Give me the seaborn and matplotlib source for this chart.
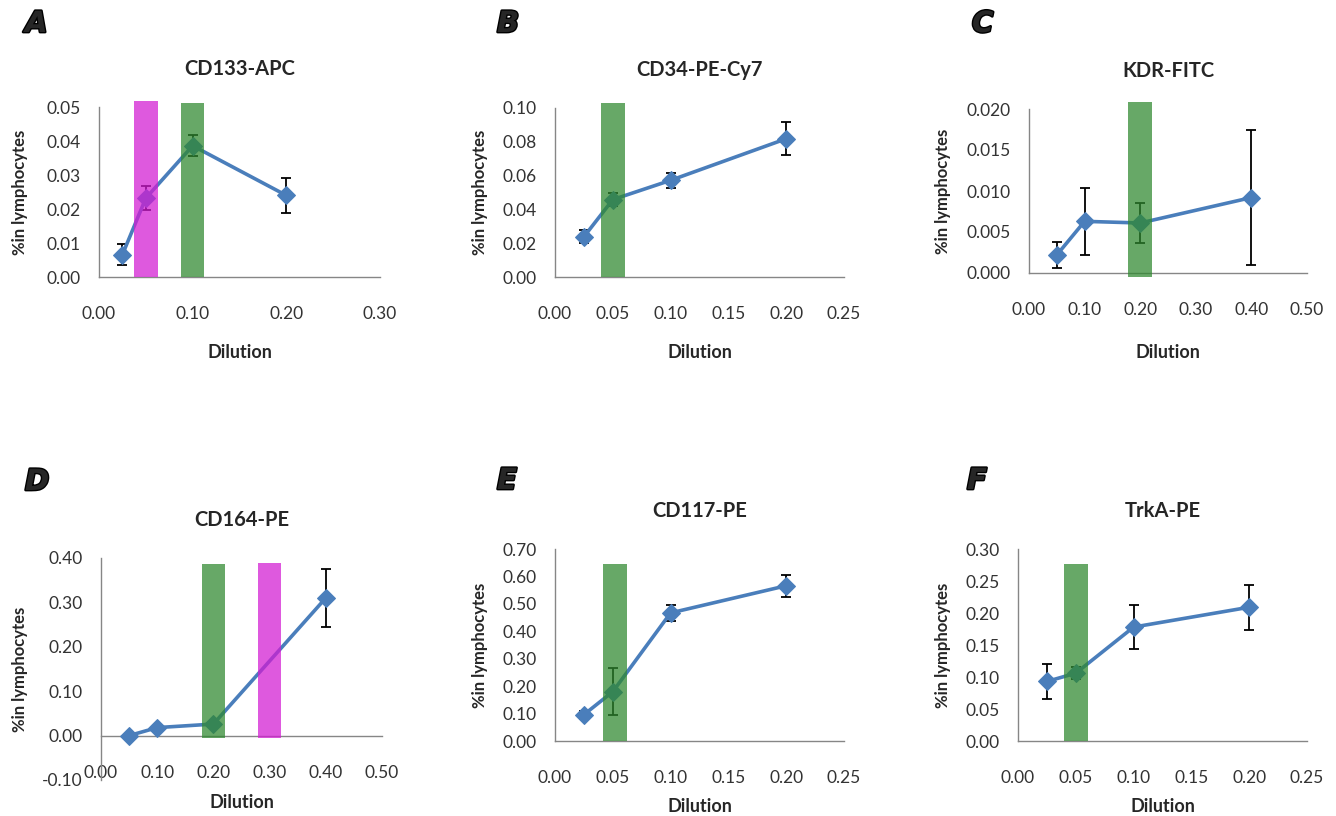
import matplotlib
matplotlib.use('Agg')
import matplotlib.pyplot as plt
import matplotlib.patheffects as pe
from matplotlib.ticker import FormatStrFormatter
import numpy as np
import pandas as pd
import seaborn as sns

# A  CD133-APC
a_dilution = [0.025, 0.05, 0.10, 0.20]
a_pct = [0.0066, 0.0232, 0.0386, 0.0240]
a_err = [0.0030, 0.0035, 0.0031, 0.0052]
a_bar_x = [0.05, 0.10]
a_bar_top = [0.0518, 0.0513]
a_bar_kind = ['magenta', 'green']

# B  CD34-PE-Cy7
b_dilution = [0.025, 0.05, 0.10, 0.20]
b_pct = [0.0238, 0.0458, 0.0572, 0.0818]
b_err = [0.0038, 0.0039, 0.0045, 0.0097]
b_bar_x = [0.05]
b_bar_top = [0.103]
b_bar_kind = ['green']

# C  KDR-FITC
c_dilution = [0.05, 0.10, 0.20, 0.40]
c_pct = [0.0022, 0.0063, 0.0061, 0.0092]
c_err = [0.0016, 0.0041, 0.0024, 0.0082]
c_bar_x = [0.20]
c_bar_top = [0.0208]
c_bar_kind = ['green']

# D  CD164-PE
d_dilution = [0.05, 0.10, 0.20, 0.40]
d_pct = [0.000, 0.018, 0.026, 0.310]
d_err = [0.002, 0.004, 0.004, 0.065]
d_bar_x = [0.20, 0.30]
d_bar_top = [0.387, 0.389]
d_bar_kind = ['green', 'magenta']

# E  CD117-PE
e_dilution = [0.025, 0.05, 0.10, 0.20]
e_pct = [0.096, 0.180, 0.467, 0.566]
e_err = [0.014, 0.086, 0.029, 0.040]
e_bar_x = [0.052]
e_bar_top = [0.645]
e_bar_kind = ['green']

# F  TrkA-PE
f_dilution = [0.025, 0.05, 0.10, 0.20]
f_pct = [0.093, 0.106, 0.178, 0.209]
f_err = [0.028, 0.009, 0.034, 0.035]
f_bar_x = [0.05]
f_bar_top = [0.277]
f_bar_kind = ['green']

bar_colors = {'green': '#2f882f', 'magenta': '#d31cd3'}
line_color = '#4a7ebb'
axis_color = '#868686'

sns.set_style('white')
plt.rcParams['font.family'] = ['Lato', 'DejaVu Sans']

W, H = 1336, 816
fig = plt.figure(figsize=(W / 100, H / 100), dpi=100)


def box_to_rect(l, t, r, b):
    return [l / W, 1 - b / H, (r - l) / W, (b - t) / H]


panels = [
    dict(letter='A', title='CD133-APC', x=a_dilution, y=a_pct, err=a_err,
         bx=a_bar_x, btop=a_bar_top, bkind=a_bar_kind, bbase=0.0,
         box=(99, 107, 380, 277), xmax=0.30, xstep=0.10,
         ylim=(0, 0.05), ystep=0.01, yfmt='%.2f',
         letter_xy=(25, 24), xlab_y=353, ylab_x=20),
    dict(letter='B', title='CD34-PE-Cy7', x=b_dilution, y=b_pct, err=b_err,
         bx=b_bar_x, btop=b_bar_top, bkind=b_bar_kind, bbase=0.0,
         box=(555, 108, 844, 277), xmax=0.25, xstep=0.05,
         ylim=(0, 0.10), ystep=0.02, yfmt='%.2f',
         letter_xy=(497, 24), xlab_y=353, ylab_x=480),
    dict(letter='C', title='KDR-FITC', x=c_dilution, y=c_pct, err=c_err,
         bx=c_bar_x, btop=c_bar_top, bkind=c_bar_kind, bbase=-0.0005,
         box=(1029, 109, 1307, 273), xmax=0.50, xstep=0.10,
         ylim=(0, 0.020), ystep=0.005, yfmt='%.3f',
         letter_xy=(972, 24), xlab_y=352, ylab_x=943),
    dict(letter='D', title='CD164-PE', x=d_dilution, y=d_pct, err=d_err,
         bx=d_bar_x, btop=d_bar_top, bkind=d_bar_kind, bbase=-0.006,
         box=(101, 558, 382, 780), xmax=0.50, xstep=0.10,
         ylim=(-0.10, 0.40), ystep=0.10, yfmt='%.2f',
         letter_xy=(25, 482), xlab_y=802, ylab_x=20),
    dict(letter='E', title='CD117-PE', x=e_dilution, y=e_pct, err=e_err,
         bx=e_bar_x, btop=e_bar_top, bkind=e_bar_kind, bbase=0.0,
         box=(555, 549, 844, 741), xmax=0.25, xstep=0.05,
         ylim=(0, 0.70), ystep=0.10, yfmt='%.2f',
         letter_xy=(497, 481), xlab_y=807, ylab_x=480),
    dict(letter='F', title='TrkA-PE', x=f_dilution, y=f_pct, err=f_err,
         bx=f_bar_x, btop=f_bar_top, bkind=f_bar_kind, bbase=0.0,
         box=(1018, 549, 1307, 741), xmax=0.25, xstep=0.05,
         ylim=(0, 0.30), ystep=0.05, yfmt='%.2f',
         letter_xy=(967, 481), xlab_y=807, ylab_x=943),
]

for p in panels:
    l, t, r, b = p['box']
    ax = fig.add_axes(box_to_rect(l, t, r, b))
    df = pd.DataFrame({'Dilution': p['x'], 'pct': p['y']})

    ax.errorbar(p['x'], p['y'], yerr=p['err'], fmt='none', ecolor='black',
                elinewidth=1.3, capsize=3.5, capthick=1.3, zorder=2)
    sns.lineplot(data=df, x='Dilution', y='pct', ax=ax, color=line_color,
                 linewidth=2.6, marker='D', markersize=9,
                 markeredgecolor=line_color, zorder=3)

    # highlight bars, ~23.5 px wide whatever the scale
    bw = 23.5 / (r - l) * p['xmax']
    heights = [top - p['bbase'] for top in p['btop']]
    ax.bar(p['bx'], heights, bottom=p['bbase'], width=bw,
           color=[bar_colors[k] for k in p['bkind']], alpha=0.73,
           linewidth=0, zorder=4, clip_on=False)

    ax.set_xlim(0, p['xmax'])
    ax.set_ylim(*p['ylim'])
    ax.set_xticks(np.arange(0, p['xmax'] + 1e-9, p['xstep']))
    ax.set_yticks(np.arange(p['ylim'][0], p['ylim'][1] + 1e-9, p['ystep']))
    ax.xaxis.set_major_formatter(FormatStrFormatter('%.2f'))
    ax.yaxis.set_major_formatter(FormatStrFormatter(p['yfmt']))
    ax.set_xlabel('')
    ax.set_ylabel('')

    for s in ['top', 'right']:
        ax.spines[s].set_visible(False)
    for s in ['left', 'bottom']:
        ax.spines[s].set_color(axis_color)
        ax.spines[s].set_linewidth(1.0)
    if p['ylim'][0] < 0:
        ax.spines['bottom'].set_position(('data', 0))

    ax.tick_params(axis='both', direction='out', length=4, width=1,
                   color=axis_color, labelsize=12.5, labelcolor='#333333')
    ax.tick_params(axis='x', pad=17)
    ax.tick_params(axis='y', pad=9)

    # panel texts
    cx = (l + r) / 2
    fig.text(cx / W, 1 - (t - 38) / H, p['title'], ha='center', va='center',
             fontsize=14.5, fontweight='bold')
    fig.text(cx / W, 1 - p['xlab_y'] / H, 'Dilution', ha='center', va='center',
             fontsize=13, fontweight='bold')
    fig.text(p['ylab_x'] / W, 1 - ((t + b) / 2) / H, '%in lymphocytes',
             rotation=90, ha='center', va='center', fontsize=12,
             fontweight='bold')
    lx, ly = p['letter_xy']
    fig.text(lx / W, 1 - ly / H, p['letter'], ha='left', va='center',
             fontsize=21, fontweight='heavy', fontstyle='italic',
             family=['DejaVu Sans'],
             path_effects=[pe.withStroke(linewidth=2, foreground='black')])

fig.savefig('out.png', dpi=100)
